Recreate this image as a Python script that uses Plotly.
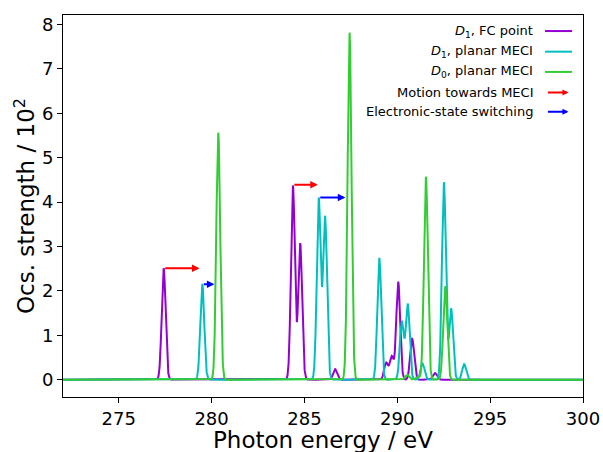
import numpy as np
import plotly.graph_objects as go

# ---- data: stick spectra (energy eV, oscillator strength / 10^2) ----
fc_energy = [277.42, 284.38, 284.77, 286.65, 289.40, 289.70, 290.05, 290.80, 292.03]
fc_strength = [2.51, 4.37, 3.07, 0.24, 0.38, 0.52, 2.20, 0.92, 0.15]

d1_energy = [279.50, 285.77, 286.11, 289.03, 290.24, 290.56, 291.36, 292.51, 292.90, 293.60]
d1_strength = [2.15, 4.08, 3.67, 2.74, 1.30, 1.70, 0.36, 4.44, 1.60, 0.35]

d0_energy = [280.36, 287.43, 290.54, 291.10, 291.54, 292.58]
d0_strength = [5.56, 7.81, 0.11, 0.07, 4.57, 2.10]

broadening_sigma = 0.105  # eV, Gaussian broadening of the sticks

# arrows: (start energy, end energy, strength level)
motion_start = [277.42, 284.38]
motion_end = [279.35, 285.72]
motion_level = [2.51, 4.39]
switch_start = [279.50, 285.77]
switch_end = [280.15, 287.20]
switch_level = [2.15, 4.10]

x_ticks = [275, 280, 285, 290, 295, 300]
y_ticks = [0, 1, 2, 3, 4, 5, 6, 7, 8]

energy_grid = np.linspace(272, 300, 5601)


def broaden(energies, strengths):
    e = np.asarray(energies)[:, None]
    s = np.asarray(strengths)[:, None]
    return (s * np.exp(-(energy_grid[None, :] - e) ** 2 / (2 * broadening_sigma ** 2))).sum(axis=0)


PURPLE = "#9400D3"
CYAN = "#00BFBF"
GREEN = "#32CD32"
FONT = "DejaVu Sans"

fig = go.Figure()
for en, st, col in [(fc_energy, fc_strength, PURPLE),
                    (d1_energy, d1_strength, CYAN),
                    (d0_energy, d0_strength, GREEN)]:
    fig.add_trace(go.Scatter(x=energy_grid, y=broaden(en, st), mode="lines",
                             line=dict(color=col, width=2), showlegend=False,
                             hoverinfo="skip"))

annotations = []
for xs, xe, lv, col in list(zip(motion_start, motion_end, motion_level, ["red"] * 2)) + \
        list(zip(switch_start, switch_end, switch_level, ["blue"] * 2)):
    annotations.append(dict(x=xe, y=lv, ax=xs, ay=lv, xref="x", yref="y", axref="x", ayref="y",
                            text="", showarrow=True, arrowhead=2, arrowsize=0.75, arrowwidth=2,
                            arrowcolor=col, standoff=0, startstandoff=0))

# ---- manual legend (text left of the sample, as in the reference) ----
legend_items = [("<i>D</i><sub>1</sub>, FC point", PURPLE, "line"),
                ("<i>D</i><sub>1</sub>, planar MECI", CYAN, "line"),
                ("<i>D</i><sub>0</sub>, planar MECI", GREEN, "line"),
                ("Motion towards MECI", "red", "arrow"),
                ("Electronic-state switching", "blue", "arrow")]
legend_y = [0.958, 0.904, 0.851, 0.797, 0.747]
shapes = []
for (label, col, kind), yy in zip(legend_items, legend_y):
    annotations.append(dict(x=0.908, y=yy, xref="paper", yref="paper", text=label,
                            showarrow=False, xanchor="right", yanchor="middle",
                            font=dict(family=FONT, size=13, color="black")))
    if kind == "line":
        shapes.append(dict(type="line", xref="paper", yref="paper", x0=0.927, x1=0.979,
                           y0=yy, y1=yy, line=dict(color=col, width=2)))
    else:
        annotations.append(dict(x=0.972, y=yy, xref="paper", yref="paper", ax=-22, ay=0,
                                text="", showarrow=True, arrowhead=2, arrowsize=0.6,
                                arrowwidth=2, arrowcolor=col, standoff=0))

# x-axis title as a positioned annotation
annotations.append(dict(x=0.5, y=-0.112, xref="paper", yref="paper", text="Photon energy / eV",
                        showarrow=False, xanchor="center", yanchor="middle",
                        font=dict(family=FONT, size=23, color="black")))

fig.update_layout(
    width=603, height=452,
    margin=dict(l=63, r=20, t=15, b=55),
    paper_bgcolor="white", plot_bgcolor="white",
    font=dict(family=FONT, color="black"),
    annotations=annotations, shapes=shapes,
    showlegend=False,
)
fig.update_xaxes(range=[272, 300], tickvals=x_ticks, ticks="outside", ticklen=5,
                 tickcolor="black", showline=True, linecolor="black", linewidth=1,
                 mirror=True, showgrid=False, zeroline=False, automargin=False,
                 tickfont=dict(size=18, family=FONT))
fig.update_yaxes(range=[-0.391, 8.211], tickvals=y_ticks, ticks="outside", ticklen=5,
                 tickcolor="black", showline=True, linecolor="black", linewidth=1,
                 mirror=True, showgrid=False, zeroline=False, automargin=False,
                 tickfont=dict(size=18, family=FONT),
                 title=dict(text="Ocs. strength / 10<sup>2</sup>", font=dict(size=23, family=FONT),
                            standoff=0))

fig.write_html("out.html")
